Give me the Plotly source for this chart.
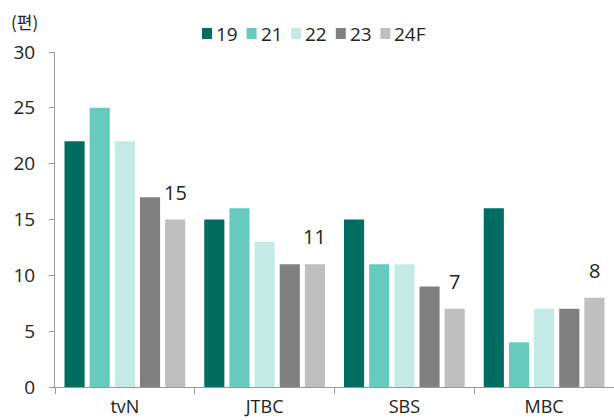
import plotly.graph_objects as go

categories = ["tvN", "JTBC", "SBS", "MBC"]
series_names = ["19", "21", "22", "23", "24F"]
v19 = [22, 15, 15, 16]
v21 = [25, 16, 11, 4]
v22 = [22, 13, 11, 7]
v23 = [17, 11, 9, 7]
v24f = [15, 11, 7, 8]
values = [v19, v21, v22, v23, v24f]
colors = ["#006D62", "#66CBBE", "#C3EAE5", "#808080", "#BFBFBF"]

W, H = 614, 420
ML, MR, MT, MB = 55, 0, 52, 33
PW = W - ML - MR
PH = H - MT - MB
FONT = "Open Sans, Noto Sans CJK KR, sans-serif"
TXT = "#222222"

fig = go.Figure()
for name, vals, c in zip(series_names, values, colors):
    fig.add_trace(go.Bar(x=categories, y=vals, name=name, marker_color=c,
                         marker_line_width=0, showlegend=False, hoverinfo="skip"))

# data labels above the 24F bars
n_series = len(series_names)
cat_px = PW / len(categories)
bargap, bargroupgap = 0.1, 0.2
slot = cat_px * (1 - bargap) / n_series
label_shift = slot * (n_series - 1) / 2
for cat, v in zip(categories, v24f):
    fig.add_annotation(x=cat, y=v, xref="x", yref="y", text=str(v), showarrow=False,
                       xshift=label_shift, yanchor="bottom", yshift=12,
                       font=dict(size=20, color=TXT, family=FONT))

# custom legend
leg_x0 = 207
leg_step = 44.6
leg_y = 33.5
for i, (name, c) in enumerate(zip(series_names, colors)):
    cx = (leg_x0 + i * leg_step - ML) / PW
    cy = 1 + (MT - leg_y) / PH
    fig.add_shape(type="rect", xref="paper", yref="paper", xsizemode="pixel",
                  ysizemode="pixel", xanchor=cx, yanchor=cy, x0=-5, x1=5, y0=-5.5, y1=5.5,
                  fillcolor=c, line_width=0)
    fig.add_annotation(x=cx + 7 / PW, y=cy, xref="paper", yref="paper", text=name,
                       showarrow=False, xanchor="left", yanchor="middle",
                       font=dict(size=19, color=TXT, family=FONT))

fig.update_layout(
    width=W, height=H,
    margin=dict(l=ML, r=MR, t=MT, b=MB, autoexpand=False),
    paper_bgcolor="white", plot_bgcolor="white",
    barmode="group", bargap=bargap, bargroupgap=bargroupgap,
    font=dict(family=FONT, size=18, color=TXT),
    showlegend=False,
)
fig.update_xaxes(showline=True, linecolor="#999999", linewidth=1,
                 ticks="outside", tickson="boundaries", ticklen=6, tickcolor="#999999",
                 tickfont=dict(size=18), showgrid=False, automargin=False,
                 ticklabelstandoff=3)
fig.update_yaxes(range=[0, 30], dtick=5, showline=True, linecolor="#999999", linewidth=1,
                 ticks="outside", ticklen=5, tickcolor="#999999", showgrid=False,
                 zeroline=False, tickfont=dict(size=19), ticklabelstandoff=10,
                 automargin=False)
fig.add_annotation(text="(편)", xref="paper", yref="paper", x=(9 - ML) / PW,
                   y=1 + (MT - 21) / PH, xanchor="left", yanchor="middle",
                   showarrow=False, font=dict(size=17, color=TXT, family="Noto Sans CJK KR"))
fig.write_html("out.html", config={"displayModeBar": False},
               post_script="document.body.style.margin='0';document.body.style.overflow='hidden';")
